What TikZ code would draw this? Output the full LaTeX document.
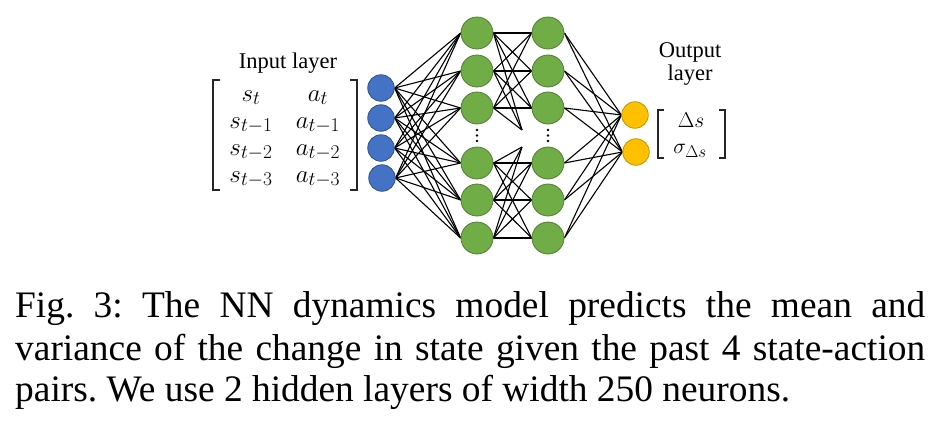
\RequirePackage{fix-cm}
\documentclass[tikz,border=0pt]{standalone}
\usepackage{fontspec}
\newfontfamily\capfont{Liberation Serif}
\newfontfamily\labfont{Liberation Serif}
\DeclareMathSizes{25}{25}{19.5}{15}
\DeclareMathSizes{21.5}{21.5}{17}{13}
\usetikzlibrary{backgrounds}
\definecolor{inblue}{HTML}{4472C4}
\definecolor{inblueb}{HTML}{2F528F}
\definecolor{hidgreen}{HTML}{70AD47}
\definecolor{hidgreenb}{HTML}{507E32}
\definecolor{outgold}{HTML}{FFC000}
\definecolor{outgoldb}{HTML}{C59300}
\begin{document}
\begin{tikzpicture}[x=1pt,y=-1pt,
  inp/.style={circle, fill=inblue, draw=inblueb, line width=0.8pt, minimum size=26.5pt, inner sep=0pt},
  hid/.style={circle, fill=hidgreen, draw=hidgreenb, line width=0.8pt, minimum size=32pt, inner sep=0pt},
  outn/.style={circle, fill=outgold, draw=outgoldb, line width=0.8pt, minimum size=26.5pt, inner sep=0pt},
  conn/.style={line width=1.1pt, black},
  brk/.style={line width=1.8pt, black!85},
  brks/.style={line width=1.3pt, black!85},
  lab/.style={font=\labfont\fontsize{22.5}{25}\selectfont, inner sep=0pt, anchor=base},
  mth/.style={font=\fontsize{25}{28}\selectfont, inner sep=0pt, anchor=base},
  omth/.style={font=\fontsize{21.5}{24}\selectfont, inner sep=0pt, anchor=base},
  captext/.style={font=\capfont\fontsize{37.4}{42}\selectfont\frenchspacing, inner sep=0pt, anchor=base west},
  dotnode/.style={circle, fill=black, inner sep=0pt, minimum size=2.8pt}
]
\useasboundingbox (0,0) rectangle (942,423);

% input nodes
\node[inp] (i1) at (381,88) {};
\node[inp] (i2) at (381,118) {};
\node[inp] (i3) at (381,148) {};
\node[inp] (i4) at (382,178) {};

% hidden layers
\foreach \k/\y in {1/33,2/71,3/108,4/163,5/200,6/238}{
  \node[hid] (a\k) at (477,\y) {};
  \node[hid] (b\k) at (548,\y) {};
}
\coordinate (p1) at (522,130);
\coordinate (p2) at (522,147);

% ellipsis dots
\foreach \y [count=\n] in {130,135.5,141}{
  \node[dotnode] (da\n) at (477,\y) {};
  \node[dotnode] (db\n) at (548,\y) {};
}

% output nodes
\node[outn] (o1) at (635,115) {};
\node[outn] (o2) at (636,152) {};

% connectors
\begin{scope}[on background layer]
  \foreach \i in {1,...,4}
    \foreach \j in {1,...,6}
      \draw[conn] (i\i.east) -- (a\j.west);
  \foreach \i in {1,2,3}{
    \foreach \j in {1,2,3}
      \draw[conn] (a\i.east) -- (b\j.west);
    \draw[conn] (a\i.east) -- (p1);
  }
  \foreach \i in {4,5,6}{
    \foreach \j in {4,5,6}
      \draw[conn] (a\i.east) -- (b\j.west);
    \draw[conn] (a\i.east) -- (p2);
  }
  \foreach \i in {1,...,6}
    \foreach \j in {1,2}
      \draw[conn] (b\i.east) -- (o\j.west);
\end{scope}

% input layer label and matrix
\node[lab] (inlab) at (288,68) {Input layer};
\draw[brk] (220,80) -- (213,80) -- (213,190) -- (220,190);
\draw[brk] (350,80) -- (357,80) -- (357,190) -- (350,190);
\node[mth] (s0) at (251,101) {$s_t$};
\node[mth] (s1) at (251,128) {$s_{t-1}$};
\node[mth] (s2) at (251,155) {$s_{t-2}$};
\node[mth] (s3) at (251,182) {$s_{t-3}$};
\node[mth] (q0) at (318,101) {$a_t$};
\node[mth] (q1) at (318,128) {$a_{t-1}$};
\node[mth] (q2) at (318,155) {$a_{t-2}$};
\node[mth] (q3) at (318,182) {$a_{t-3}$};

% output label and vector
\node[lab] (outlab1) at (690,57) {Output};
\node[lab] (outlab2) at (690,80) {layer};
\draw[brks] (664,110) -- (658,110) -- (658,158) -- (664,158);
\draw[brks] (719,110) -- (725,110) -- (725,158) -- (719,158);
\node[omth] (ds) at (691,127) {$\Delta s$};
\node[omth] (sg) at (690,153) {$\sigma_{\Delta s}$};

% caption
\node[captext] (c1) at (15,317) {\makebox[910pt][s]{Fig. 3: The NN dynamics model predicts the mean and}};
\node[captext] (c2) at (15,360) {\makebox[910pt][s]{variance of the change in state given the past 4 state-action}};
\node[captext] (c3) at (15,401) {pairs. We use 2 hidden layers of width 250 neurons.};
\end{tikzpicture}
\end{document}
